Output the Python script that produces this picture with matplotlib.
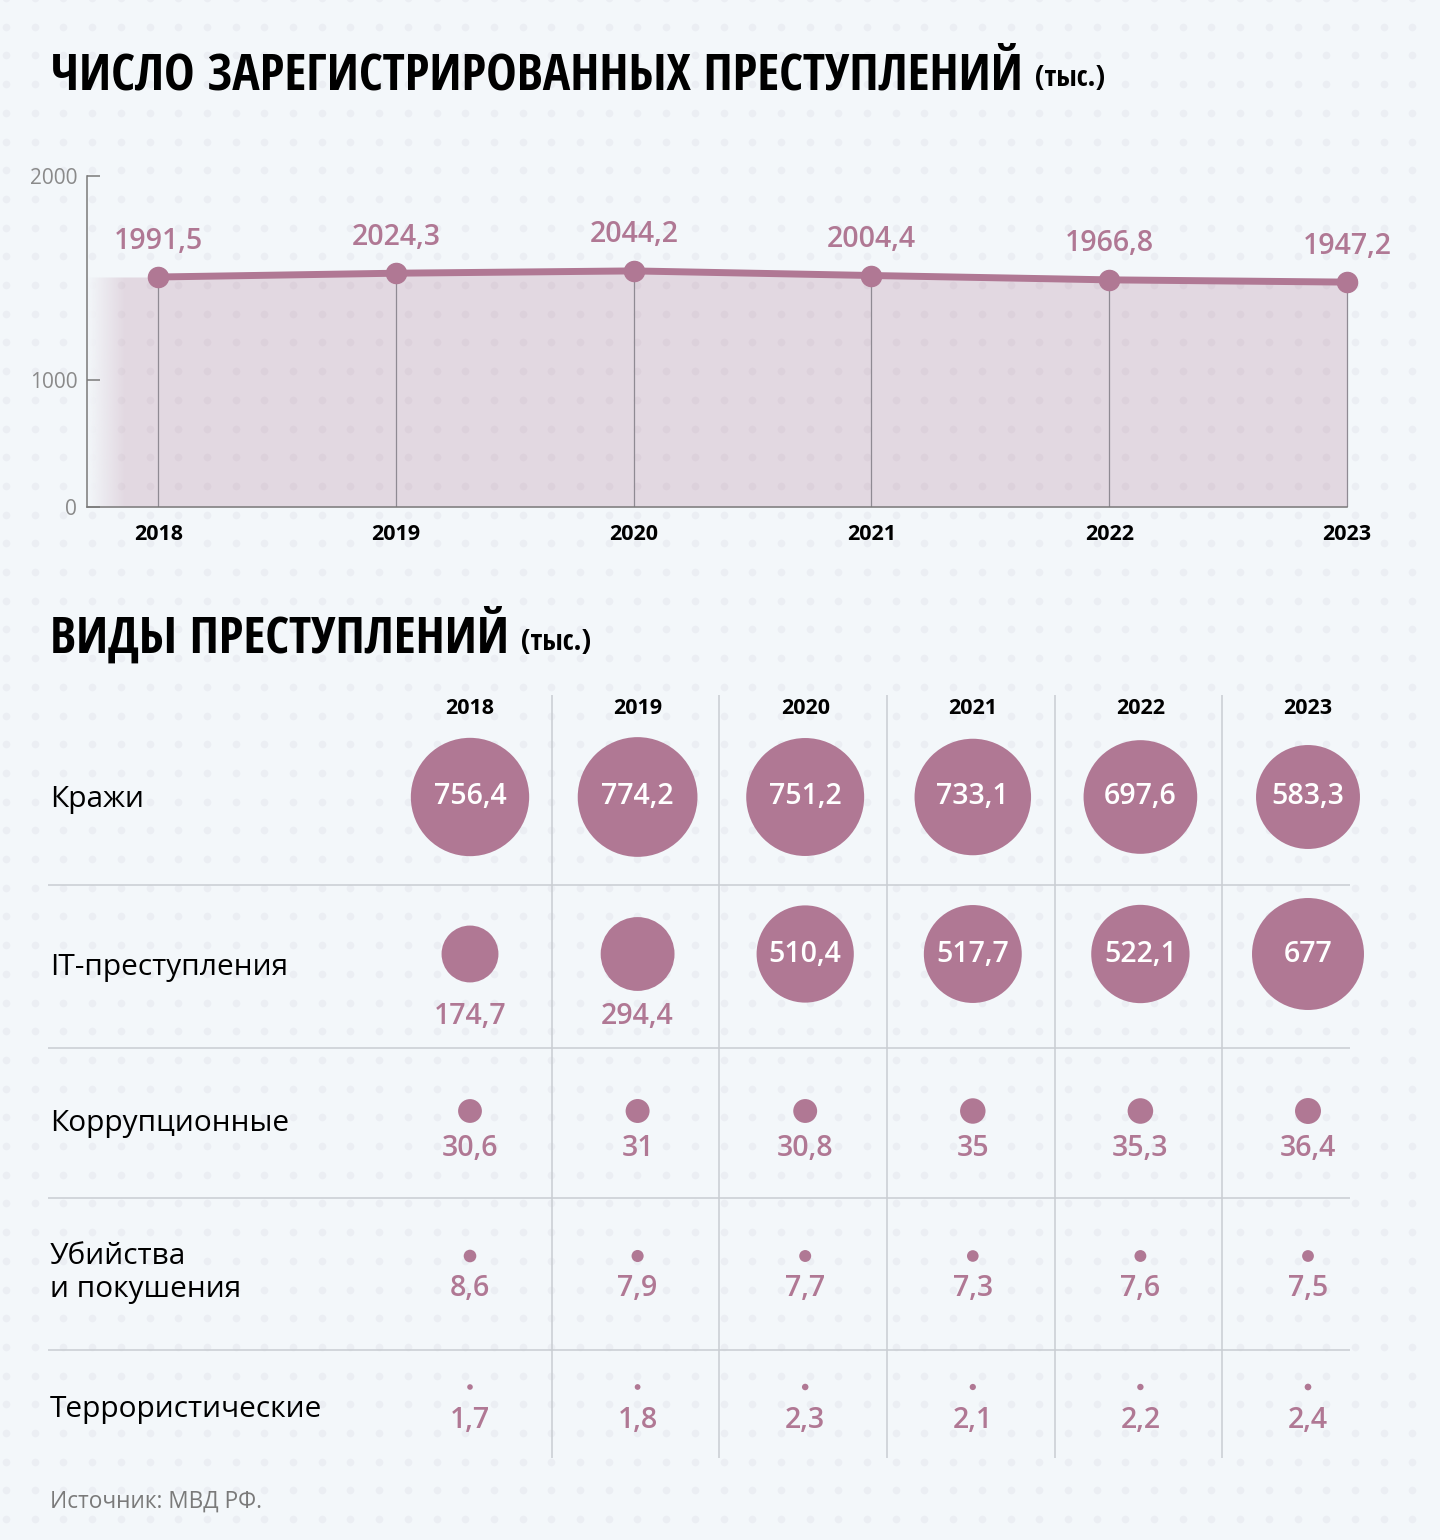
import numpy as np
import matplotlib.pyplot as plt
from matplotlib.colors import to_rgb

plt.rcParams['font.family'] = ['Open Sans', 'Noto Sans', 'DejaVu Sans']
TITLE_FONT = ['Open Sans Condensed', 'Open Sans', 'DejaVu Sans']

# --- data ---
years = [2018, 2019, 2020, 2021, 2022, 2023]
total = [1991.5, 2024.3, 2044.2, 2004.4, 1966.8, 1947.2]
y_tick_labels = ['0', '1000', '2000']

crime_types = ['Кражи', 'IT-преступления', 'Коррупционные',
               'Убийства\nи покушения', 'Террористические']
thefts = [756.4, 774.2, 751.2, 733.1, 697.6, 583.3]
it_crimes = [174.7, 294.4, 510.4, 517.7, 522.1, 677]
corruption = [30.6, 31, 30.8, 35, 35.3, 36.4]
murders = [8.6, 7.9, 7.7, 7.3, 7.6, 7.5]
terrorism = [1.7, 1.8, 2.3, 2.1, 2.2, 2.4]
rows = [thefts, it_crimes, corruption, murders, terrorism]

title_top = 'ЧИСЛО ЗАРЕГИСТРИРОВАННЫХ ПРЕСТУПЛЕНИЙ'
title_bottom = 'ВИДЫ ПРЕСТУПЛЕНИЙ'
unit = '(тыс.)'
source = 'Источник: МВД РФ.'

# --- styles ---
BG = '#f3f7fa'
MAUVE = '#b07894'
GRID = '#c9cdd2'


def fmt(v):
    return f'{v:g}'.replace('.', ',')


fig = plt.figure(figsize=(14.4, 15.4), dpi=100, facecolor=BG)

# full-figure layer in pixel units: background dots, titles, table
bg = fig.add_axes([0, 0, 1, 1])
bg.set_xlim(0, 1440)
bg.set_ylim(1540, 0)
bg.axis('off')
gx, gy = np.meshgrid(np.arange(6, 1440, 28.7), np.arange(-2, 1540, 28.7))
bg.scatter(gx.ravel(), gy.ravel(), s=30, color='#ebeef3', lw=0, zorder=0)

# titles
for y, title in [(89, title_top), (653, title_bottom)]:
    t = bg.text(50, y, title, fontsize=37, weight='bold', va='baseline', family=TITLE_FONT)
    bg.annotate(unit, xy=(1, 0), xycoords=t, xytext=(9, 6), textcoords='offset points',
                fontsize=21, weight='bold', va='bottom', family=TITLE_FONT)

# --- line chart ---
ax = fig.add_axes([87 / 1440, (1540 - 507) / 1540, (1360 - 87) / 1440, (507 - 176) / 1540])
ax.patch.set_alpha(0)
x0, x1 = 2017.70, 2023.055
ytop = 2866

fill = ax.fill_between([x0] + years, [total[0]] + total, color=MAUVE, alpha=0.245, lw=0, zorder=1)
grad = np.zeros((1, 60, 4))
grad[..., :3] = to_rgb(BG)
grad[..., 3] = np.linspace(1, 0, 60)
im = ax.imshow(grad, extent=(x0, x0 + 0.16, 0, ytop), aspect='auto', zorder=1.5,
               interpolation='bilinear')
im.set_clip_path(fill.get_paths()[0], ax.transData)

ax.vlines(years, 0, total, color='#8f8a93', lw=0.9, zorder=2)
ax.plot(years, total, color=MAUVE, lw=5, marker='o', ms=14.5, zorder=3)
for x, v in zip(years, total):
    ax.annotate(fmt(v), (x, v), xytext=(0, 20.5), textcoords='offset points',
                ha='center', va='baseline', fontsize=20.5, color=MAUVE, weight=600)

ax.set_xlim(x0, x1)
ax.set_ylim(0, ytop)
ax.set_xticks(years)
ax.set_xticklabels([str(y) for y in years], fontsize=15.5, weight='bold')
ax.tick_params(axis='x', length=0, pad=12)
ax.set_yticks([0, 1100, ytop])
ax.set_yticklabels(y_tick_labels, fontsize=15, color='#8a8a8a')
ax.tick_params(axis='y', direction='in', length=9, width=1.1, color='#7a7a7a', pad=7)
for s in ['top', 'right']:
    ax.spines[s].set_visible(False)
for s in ['left', 'bottom']:
    ax.spines[s].set_color('#7a7a7a')
    ax.spines[s].set_linewidth(1.1)
ax.spines['bottom'].set_bounds(x0, years[-1])

# --- bubble table ---
col_x = [470 + 167.6 * j for j in range(len(years))]
row_y = [797, 954, 1111, 1256, 1387]
row_label_y = [800, 968, 1123, 1273, 1409]
value_y = [None, 1016, 1149, 1289, 1420]

for x, y in zip(col_x, years):
    bg.text(x, 708, str(y), fontsize=15.5, weight='bold', ha='center', va='center')

bg.hlines([885, 1048, 1198, 1350], 48, 1350, color=GRID, lw=1.1, zorder=1)
bg.vlines([x + 167.6 / 2 - 2 for x in col_x[:-1]], 695, 1458, color=GRID, lw=1.1, zorder=1)

for i, (name, vals) in enumerate(zip(crime_types, rows)):
    bg.text(50, row_label_y[i], name, fontsize=21.5, va='center', linespacing=1.2)
    bg.scatter(col_x, [row_y[i]] * len(vals), s=[9.6 * v for v in vals],
               color=MAUVE, lw=0, zorder=3)
    for x, v in zip(col_x, vals):
        if v > 400:
            bg.text(x, row_y[i], fmt(v), fontsize=20.5, color='white', weight=600,
                    ha='center', va='center', zorder=4)
        else:
            bg.text(x, value_y[i], fmt(v), fontsize=20.5, color=MAUVE, weight=600,
                    ha='center', va='center', zorder=4)

bg.text(50, 1502, source, fontsize=16.3, color='#7a7a7a', va='center')

fig.savefig('out.png', dpi=100, facecolor=BG)
